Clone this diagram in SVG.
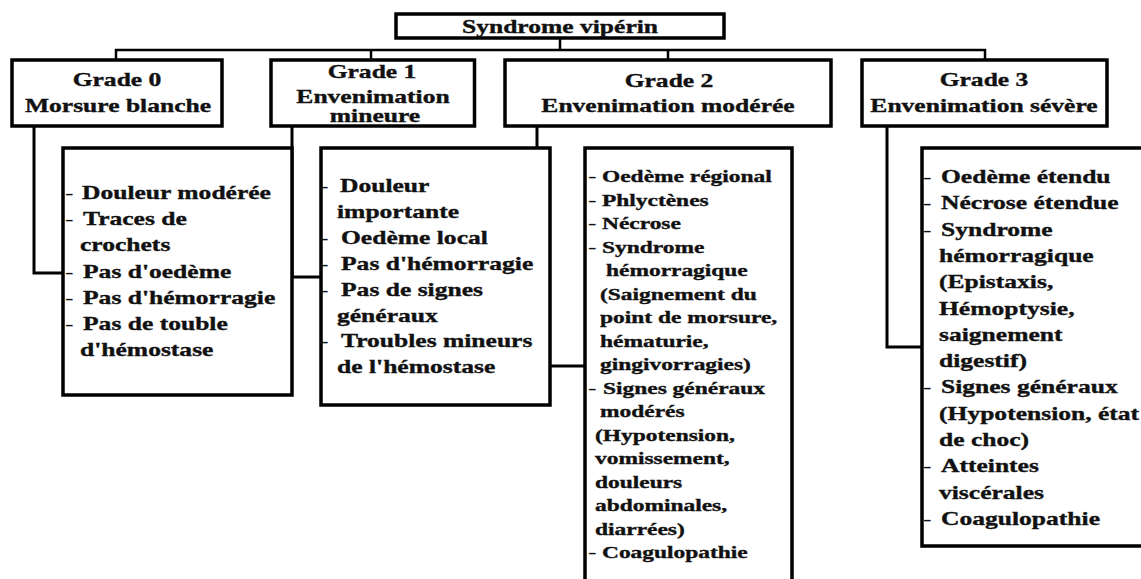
<svg xmlns="http://www.w3.org/2000/svg" width="1141" height="579" viewBox="0 0 1141 579">
  <style>
    .box { fill: #fff; stroke: #000; stroke-width: 3.5; }
    .ln { fill: none; stroke: #000; stroke-width: 3; stroke-linejoin: miter; }
    .bus { fill: none; stroke: #000; stroke-width: 2.5; }
    .t { font-family: "Liberation Serif", "Times New Roman", serif; font-weight: bold; font-size: 18px; fill: #111; stroke: #111; stroke-width: 0.35; }
    .sm { font-size: 16.5px; }
    .c { text-anchor: middle; }
    .d { font-family: "Liberation Serif", "Times New Roman", serif; font-weight: normal; font-size: 18px; fill: #111; }
  </style>

  <!-- connectors (drawn first so the white boxes cover the hidden parts) -->
  <g id="connectors">
    <path class="bus" d="M560,38 V50 M116,60 V50 H985 V60 M371,50 V60 M668,50 V60"/>
    <path class="ln" d="M34,126 V273 H63"/>
    <path class="ln" d="M292,126 V277 H321"/>
    <path class="ln" d="M537,126 V366 H585"/>
    <path class="ln" d="M887,126 V347 H922"/>
  </g>

  <!-- root -->
  <g id="root">
    <rect class="box" x="396" y="14" width="328" height="24"/>
    <text class="t c" transform="matrix(1.42 0 0 1 560 33)">Syndrome vipérin</text>
  </g>

  <!-- grade headers -->
  <g id="grade0">
    <rect class="box" x="12" y="60" width="210" height="66"/>
    <text class="t c" transform="matrix(1.42 0 0 1 117 86)">Grade 0</text>
    <text class="t c" transform="matrix(1.42 0 0 1 118 112)">Morsure blanche</text>
  </g>
  <g id="grade1">
    <rect class="box" x="271" y="60" width="203.5" height="66"/>
    <text class="t c" transform="matrix(1.42 0 0 1 372 78)">Grade 1</text>
    <text class="t c" transform="matrix(1.42 0 0 1 373 103)">Envenimation</text>
    <text class="t c" transform="matrix(1.42 0 0 1 375 122)">mineure</text>
  </g>
  <g id="grade2">
    <rect class="box" x="505" y="60" width="326" height="66"/>
    <text class="t c" transform="matrix(1.42 0 0 1 669 86.5)">Grade 2</text>
    <text class="t c" transform="matrix(1.42 0 0 1 668 112)">Envenimation modérée</text>
  </g>
  <g id="grade3">
    <rect class="box" x="862" y="60" width="245" height="66"/>
    <text class="t c" transform="matrix(1.42 0 0 1 984 85.5)">Grade 3</text>
    <text class="t c" transform="matrix(1.42 0 0 1 984 112)">Envenimation sévère</text>
  </g>

  <!-- grade 0 details -->
  <g id="details0">
    <rect class="box" x="63" y="148" width="229" height="247"/>
    <text class="d" transform="matrix(1.42 0 0 1 65 199)">-</text>
    <text class="d" transform="matrix(1.42 0 0 1 65 225)">-</text>
    <text class="d" transform="matrix(1.42 0 0 1 65 278)">-</text>
    <text class="d" transform="matrix(1.42 0 0 1 65 304)">-</text>
    <text class="d" transform="matrix(1.42 0 0 1 65 330)">-</text>
    <text class="t" transform="matrix(1.42 0 0 1 82 199)">Douleur modérée</text>
    <text class="t" transform="matrix(1.42 0 0 1 83 225)">Traces de</text>
    <text class="t" transform="matrix(1.42 0 0 1 80 251)">crochets</text>
    <text class="t" transform="matrix(1.42 0 0 1 83 278)">Pas d'oedème</text>
    <text class="t" transform="matrix(1.42 0 0 1 83 304)">Pas d'hémorragie</text>
    <text class="t" transform="matrix(1.42 0 0 1 83 330)">Pas de touble</text>
    <text class="t" transform="matrix(1.42 0 0 1 80 356)">d'hémostase</text>
  </g>

  <!-- grade 1 details -->
  <g id="details1">
    <rect class="box" x="321" y="148" width="229" height="257"/>
    <text class="d" transform="matrix(1.42 0 0 1 320 192)">-</text>
    <text class="d" transform="matrix(1.42 0 0 1 320 244)">-</text>
    <text class="d" transform="matrix(1.42 0 0 1 320 270)">-</text>
    <text class="d" transform="matrix(1.42 0 0 1 320 296)">-</text>
    <text class="d" transform="matrix(1.42 0 0 1 320 347)">-</text>
    <text class="t" transform="matrix(1.42 0 0 1 340 192)">Douleur</text>
    <text class="t" transform="matrix(1.42 0 0 1 337 218)">importante</text>
    <text class="t" transform="matrix(1.42 0 0 1 341 244)">Oedème local</text>
    <text class="t" transform="matrix(1.42 0 0 1 341 270)">Pas d'hémorragie</text>
    <text class="t" transform="matrix(1.42 0 0 1 341 296)">Pas de signes</text>
    <text class="t" transform="matrix(1.42 0 0 1 337 322)">généraux</text>
    <text class="t" transform="matrix(1.42 0 0 1 341 347)">Troubles mineurs</text>
    <text class="t" transform="matrix(1.42 0 0 1 337 373)">de l'hémostase</text>
  </g>

  <!-- grade 2 details (runs past the bottom edge) -->
  <g id="details2">
    <rect class="box" x="585" y="148" width="207" height="445"/>
    <text class="d sm" transform="matrix(1.42 0 0 1 588 182)">-</text>
    <text class="d sm" transform="matrix(1.42 0 0 1 588 205.5)">-</text>
    <text class="d sm" transform="matrix(1.42 0 0 1 588 229)">-</text>
    <text class="d sm" transform="matrix(1.42 0 0 1 588 252.5)">-</text>
    <text class="d sm" transform="matrix(1.42 0 0 1 588 393.5)">-</text>
    <text class="d sm" transform="matrix(1.42 0 0 1 588 558)">-</text>
    <text class="t sm" transform="matrix(1.42 0 0 1 602 182)">Oedème régional</text>
    <text class="t sm" transform="matrix(1.42 0 0 1 602 205.5)">Phlyctènes</text>
    <text class="t sm" transform="matrix(1.42 0 0 1 602 229)">Nécrose</text>
    <text class="t sm" transform="matrix(1.42 0 0 1 602 252.5)">Syndrome</text>
    <text class="t sm" transform="matrix(1.42 0 0 1 606 276)">hémorragique</text>
    <text class="t sm" transform="matrix(1.42 0 0 1 600 299.5)">(Saignement du</text>
    <text class="t sm" transform="matrix(1.42 0 0 1 600 323)">point de morsure,</text>
    <text class="t sm" transform="matrix(1.42 0 0 1 600 346.5)">hématurie,</text>
    <text class="t sm" transform="matrix(1.42 0 0 1 600 370)">gingivorragies)</text>
    <text class="t sm" transform="matrix(1.42 0 0 1 603 393.5)">Signes généraux</text>
    <text class="t sm" transform="matrix(1.42 0 0 1 600 417)">modérés</text>
    <text class="t sm" transform="matrix(1.42 0 0 1 595 440.5)">(Hypotension,</text>
    <text class="t sm" transform="matrix(1.42 0 0 1 595 464)">vomissement,</text>
    <text class="t sm" transform="matrix(1.42 0 0 1 595 487.5)">douleurs</text>
    <text class="t sm" transform="matrix(1.42 0 0 1 595 511)">abdominales,</text>
    <text class="t sm" transform="matrix(1.42 0 0 1 595 534.5)">diarrées)</text>
    <text class="t sm" transform="matrix(1.42 0 0 1 602 558)">Coagulopathie</text>
  </g>

  <!-- grade 3 details (runs past the right edge) -->
  <g id="details3">
    <rect class="box" x="922" y="148" width="240" height="398"/>
    <text class="d" transform="matrix(1.42 0 0 1 923 183)">-</text>
    <text class="d" transform="matrix(1.42 0 0 1 923 209.3)">-</text>
    <text class="d" transform="matrix(1.42 0 0 1 923 235.6)">-</text>
    <text class="d" transform="matrix(1.42 0 0 1 923 393.4)">-</text>
    <text class="d" transform="matrix(1.42 0 0 1 923 472.3)">-</text>
    <text class="d" transform="matrix(1.42 0 0 1 923 524.9)">-</text>
    <text class="t" transform="matrix(1.42 0 0 1 941 183)">Oedème étendu</text>
    <text class="t" transform="matrix(1.42 0 0 1 941 209.3)">Nécrose étendue</text>
    <text class="t" transform="matrix(1.42 0 0 1 941 235.6)">Syndrome</text>
    <text class="t" transform="matrix(1.42 0 0 1 939 261.9)">hémorragique</text>
    <text class="t" transform="matrix(1.42 0 0 1 939 288.2)">(Epistaxis,</text>
    <text class="t" transform="matrix(1.42 0 0 1 939 314.5)">Hémoptysie,</text>
    <text class="t" transform="matrix(1.42 0 0 1 939 340.8)">saignement</text>
    <text class="t" transform="matrix(1.42 0 0 1 939 367.1)">digestif)</text>
    <text class="t" transform="matrix(1.42 0 0 1 941 393.4)">Signes généraux</text>
    <text class="t" transform="matrix(1.42 0 0 1 939 419.7)">(Hypotension, état</text>
    <text class="t" transform="matrix(1.42 0 0 1 939 446)">de choc)</text>
    <text class="t" transform="matrix(1.42 0 0 1 941 472.3)">Atteintes</text>
    <text class="t" transform="matrix(1.42 0 0 1 939 498.6)">viscérales</text>
    <text class="t" transform="matrix(1.42 0 0 1 941 524.9)">Coagulopathie</text>
  </g>
</svg>
